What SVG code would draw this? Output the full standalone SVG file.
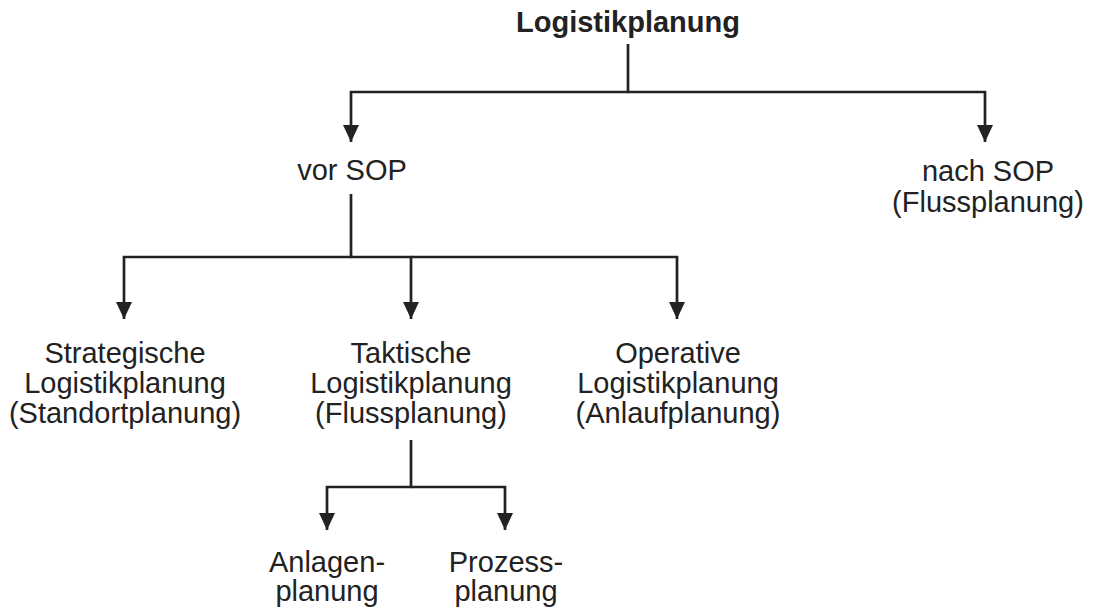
<svg xmlns="http://www.w3.org/2000/svg" width="1094" height="614" viewBox="0 0 1094 614">
  <style>
    .t { font-family: "Liberation Sans", Arial, sans-serif; font-size: 29px; fill: #222; text-anchor: middle; }
    .b { font-weight: bold; }
    .c { fill: none; stroke: #222; stroke-width: 2.7; }
  </style>
  <defs>
    <marker id="ah" markerUnits="userSpaceOnUse" markerWidth="18" markerHeight="17" refX="17" refY="8" orient="auto" viewBox="0 0 18 17">
      <path d="M0,0 L17,8 L0,16 z" fill="#222"/>
    </marker>
  </defs>
  <rect width="1094" height="614" fill="#fff"/>
  <g id="connectors">
    <path class="c" d="M628,44 V92 H351 V142" marker-end="url(#ah)"/>
    <path class="c" d="M628,92 H985 V142" marker-end="url(#ah)"/>
    <path class="c" d="M351,194 V257 H124 V319" marker-end="url(#ah)"/>
    <path class="c" d="M351,257 H411 V319" marker-end="url(#ah)"/>
    <path class="c" d="M411,257 H677 V319" marker-end="url(#ah)"/>
    <path class="c" d="M411,440 V487 H327 V530" marker-end="url(#ah)"/>
    <path class="c" d="M411,487 H505 V530" marker-end="url(#ah)"/>
  </g>
  <g id="n-root"><text class="t b" x="628" y="32">Logistikplanung</text></g>
  <g id="n-vor"><text class="t" x="352" y="180">vor SOP</text></g>
  <g id="n-nach">
    <text class="t" x="988" y="181">nach SOP</text>
    <text class="t" x="988" y="212">(Flussplanung)</text>
  </g>
  <g id="n-strat">
    <text class="t" x="125" y="363">Strategische</text>
    <text class="t" x="125" y="393">Logistikplanung</text>
    <text class="t" x="125" y="423">(Standortplanung)</text>
  </g>
  <g id="n-takt">
    <text class="t" x="411" y="363">Taktische</text>
    <text class="t" x="411" y="393">Logistikplanung</text>
    <text class="t" x="411" y="423">(Flussplanung)</text>
  </g>
  <g id="n-oper">
    <text class="t" x="678" y="363">Operative</text>
    <text class="t" x="678" y="393">Logistikplanung</text>
    <text class="t" x="678" y="423">(Anlaufplanung)</text>
  </g>
  <g id="n-anlagen">
    <text class="t" x="327" y="572">Anlagen-</text>
    <text class="t" x="327" y="601">planung</text>
  </g>
  <g id="n-prozess">
    <text class="t" x="506" y="572">Prozess-</text>
    <text class="t" x="506" y="601">planung</text>
  </g>
</svg>
